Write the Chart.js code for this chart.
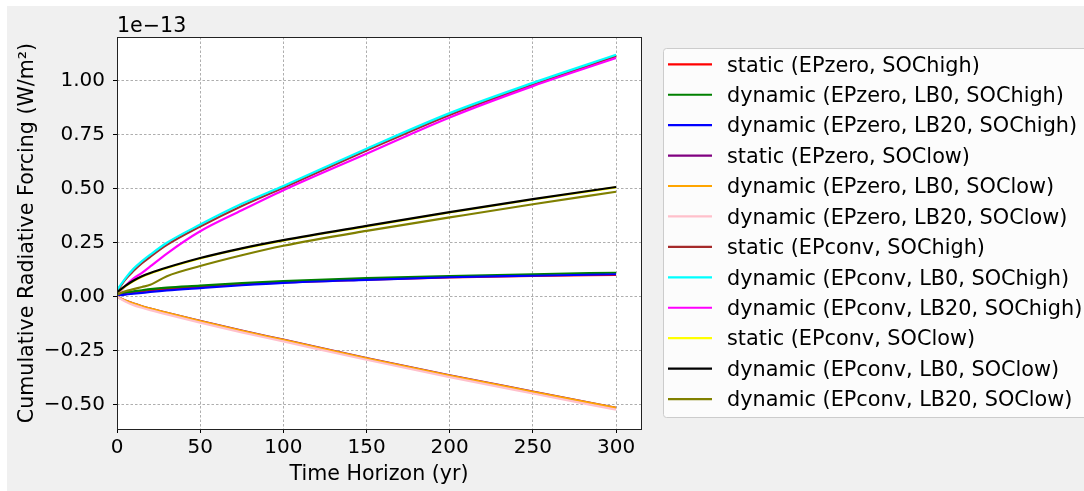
<!DOCTYPE html>
<html>
<head>
<meta charset="utf-8">
<script src="https://cdn.jsdelivr.net/npm/chart.js@4.4.0/dist/chart.umd.min.js"></script>
<style>
  html, body { margin: 0; padding: 0; background: #fff; }
  #wrap { width: 1084px; height: 491px; }
</style>
</head>
<body>
<div id="wrap"><canvas id="forcing" width="1084" height="491"></canvas></div>
<script>
// values in units of 1e-13 W/m2
const years = [0, 5, 10, 15, 20, 30, 50, 75, 100, 150, 200, 250, 300];

const staticEPzeroHigh   = [0.010, 0.018, 0.022, 0.026, 0.030, 0.036, 0.046, 0.057, 0.066, 0.079, 0.089, 0.096, 0.101];
const dynEPzeroLB0High   = [0.010, 0.020, 0.025, 0.030, 0.035, 0.042, 0.051, 0.063, 0.072, 0.086, 0.096, 0.104, 0.111];
const dynEPzeroLB20High  = [0.005, 0.010, 0.014, 0.018, 0.022, 0.029, 0.040, 0.053, 0.064, 0.078, 0.090, 0.097, 0.104];
const staticEPzeroLow    = [0.000, -0.018, -0.032, -0.044, -0.055, -0.075, -0.112, -0.157, -0.199, -0.284, -0.364, -0.439, -0.514];
const dynEPzeroLB0Low    = [0.000, -0.018, -0.032, -0.044, -0.055, -0.075, -0.113, -0.158, -0.200, -0.285, -0.365, -0.440, -0.515];
const dynEPzeroLB20Low   = [0.000, -0.022, -0.039, -0.051, -0.062, -0.082, -0.120, -0.165, -0.207, -0.292, -0.372, -0.448, -0.523];
const staticEPconvHigh   = [0.025, 0.080, 0.120, 0.155, 0.185, 0.240, 0.325, 0.420, 0.505, 0.677, 0.842, 0.982, 1.113];
const dynEPconvLB0High   = [0.030, 0.085, 0.130, 0.165, 0.195, 0.250, 0.334, 0.430, 0.513, 0.685, 0.850, 0.990, 1.120];
const dynEPconvLB20High  = [0.010, 0.050, 0.085, 0.110, 0.140, 0.200, 0.303, 0.400, 0.493, 0.662, 0.830, 0.975, 1.105];
const staticEPconvLow    = [0.018, 0.048, 0.073, 0.093, 0.108, 0.133, 0.177, 0.222, 0.260, 0.326, 0.390, 0.450, 0.506];
const dynEPconvLB0Low    = [0.020, 0.050, 0.075, 0.095, 0.110, 0.135, 0.179, 0.224, 0.262, 0.328, 0.392, 0.452, 0.508];
const dynEPconvLB20Low   = [0.010, 0.025, 0.035, 0.045, 0.055, 0.095, 0.142, 0.192, 0.236, 0.305, 0.367, 0.428, 0.486];

const seriesLabels = [
  'static (EPzero, SOChigh)',
  'dynamic (EPzero, LB0, SOChigh)',
  'dynamic (EPzero, LB20, SOChigh)',
  'static (EPzero, SOClow)',
  'dynamic (EPzero, LB0, SOClow)',
  'dynamic (EPzero, LB20, SOClow)',
  'static (EPconv, SOChigh)',
  'dynamic (EPconv, LB0, SOChigh)',
  'dynamic (EPconv, LB20, SOChigh)',
  'static (EPconv, SOClow)',
  'dynamic (EPconv, LB0, SOClow)',
  'dynamic (EPconv, LB20, SOClow)'
];
const seriesValues = [
  staticEPzeroHigh, dynEPzeroLB0High, dynEPzeroLB20High,
  staticEPzeroLow, dynEPzeroLB0Low, dynEPzeroLB20Low,
  staticEPconvHigh, dynEPconvLB0High, dynEPconvLB20High,
  staticEPconvLow, dynEPconvLB0Low, dynEPconvLB20Low
];
const seriesColors = ['#ff0000', '#008000', '#0000ff', '#800080', '#ffa500', '#ffc0cb',
                      '#a52a2a', '#00ffff', '#ff00ff', '#ffff00', '#000000', '#808000'];

const xTicks = [0, 50, 100, 150, 200, 250, 300];
const yTicks = [-0.5, -0.25, 0, 0.25, 0.5, 0.75, 1.0];

const FONT = 'DejaVu Sans';

// axes box, titles, offset text and legend (matplotlib look)
const figurePlugin = {
  id: 'figure',
  beforeDraw(chart) {
    const { ctx, chartArea: a } = chart;
    ctx.save();
    ctx.fillStyle = '#f0f0f0';
    ctx.fillRect(7, 6, chart.width - 7, chart.height - 6);
    ctx.fillStyle = '#ffffff';
    ctx.fillRect(a.left, a.top, a.right - a.left, a.bottom - a.top);
    ctx.restore();
  },
  afterDraw(chart) {
    const { ctx, chartArea: a } = chart;
    ctx.save();
    ctx.strokeStyle = '#222';
    ctx.lineWidth = 1;
    ctx.strokeRect(a.left + 0.5, a.top + 0.5, a.right - a.left, a.bottom - a.top);

    ctx.fillStyle = '#000';
    ctx.font = '20.6px "' + FONT + '"';
    ctx.textBaseline = 'alphabetic';
    ctx.textAlign = 'left';
    ctx.fillText('1e\u221213', a.left, 32);

    ctx.textAlign = 'center';
    ctx.fillText('Time Horizon (yr)', (a.left + a.right) / 2, 480);

    ctx.save();
    ctx.translate(32.5, (a.top + a.bottom) / 2);
    ctx.rotate(-Math.PI / 2);
    ctx.fillText('Cumulative Radiative Forcing (W/m\u00b2)', 0, 0);
    ctx.restore();

    // legend
    const lx = 663.5, ly = 48.5, lw = 460, lh = 369, r = 3;
    ctx.beginPath();
    ctx.moveTo(lx + r, ly);
    ctx.lineTo(lx + lw, ly);
    ctx.lineTo(lx + lw, ly + lh);
    ctx.lineTo(lx + r, ly + lh);
    ctx.arcTo(lx, ly + lh, lx, ly + lh - r, r);
    ctx.lineTo(lx, ly + r);
    ctx.arcTo(lx, ly, lx + r, ly, r);
    ctx.closePath();
    ctx.fillStyle = 'rgba(255,255,255,0.8)';
    ctx.fill();
    ctx.strokeStyle = '#cccccc';
    ctx.stroke();

    ctx.textAlign = 'left';
    ctx.font = '20.8px "' + FONT + '"';
    chart.data.datasets.forEach((ds, i) => {
      const y = 64.3 + i * 30.43;
      ctx.strokeStyle = ds.borderColor;
      ctx.lineWidth = 2.2;
      ctx.beginPath();
      ctx.moveTo(668, y);
      ctx.lineTo(712, y);
      ctx.stroke();
      ctx.fillStyle = '#000';
      ctx.fillText(ds.label, 727, y + 7.3);
    });
    ctx.restore();
  }
};

const gridOpts = {
  color: 'rgba(128,128,128,0.8)',
  lineWidth: 0.8,
  drawTicks: true,
  tickLength: 4,
  tickColor: '#000',
  tickWidth: 1,
  tickBorderDash: []
};

new Chart(document.getElementById('forcing').getContext('2d'), {
  type: 'line',
  data: {
    datasets: seriesValues.map((vals, i) => ({
      label: seriesLabels[i],
      data: years.map((t, k) => ({ x: t, y: vals[k] })),
      borderColor: seriesColors[i],
      backgroundColor: seriesColors[i],
      borderWidth: 2.2,
      pointRadius: 0,
      cubicInterpolationMode: 'monotone',
      order: seriesValues.length - 1 - i
    }))
  },
  options: {
    responsive: false,
    animation: false,
    devicePixelRatio: 1,
    layout: { padding: { left: 0, top: 37, right: 443, bottom: 0 } },
    plugins: { legend: { display: false }, tooltip: { enabled: false } },
    scales: {
      x: {
        type: 'linear',
        min: 0,
        max: 315,
        afterBuildTicks: s => { s.ticks = xTicks.map(v => ({ value: v })); },
        afterFit: s => { s.height = 62; },
        grid: gridOpts,
        border: { display: false, dash: [2.5, 2] },
        ticks: {
          color: '#000',
          font: { family: FONT, size: 20 },
          padding: 3,
          maxRotation: 0,
          autoSkip: false,
          callback: v => String(v)
        }
      },
      y: {
        min: -0.6125,
        max: 1.2025,
        afterBuildTicks: s => { s.ticks = yTicks.map(v => ({ value: v })); },
        afterFit: s => { s.width = 117; },
        grid: gridOpts,
        border: { display: false, dash: [2.5, 2] },
        ticks: {
          color: '#000',
          font: { family: FONT, size: 20 },
          padding: 8,
          autoSkip: false,
          callback: v => (v < 0 ? '\u2212' : '') + Math.abs(v).toFixed(2)
        }
      }
    }
  },
  plugins: [figurePlugin]
});
</script>
</body>
</html>
